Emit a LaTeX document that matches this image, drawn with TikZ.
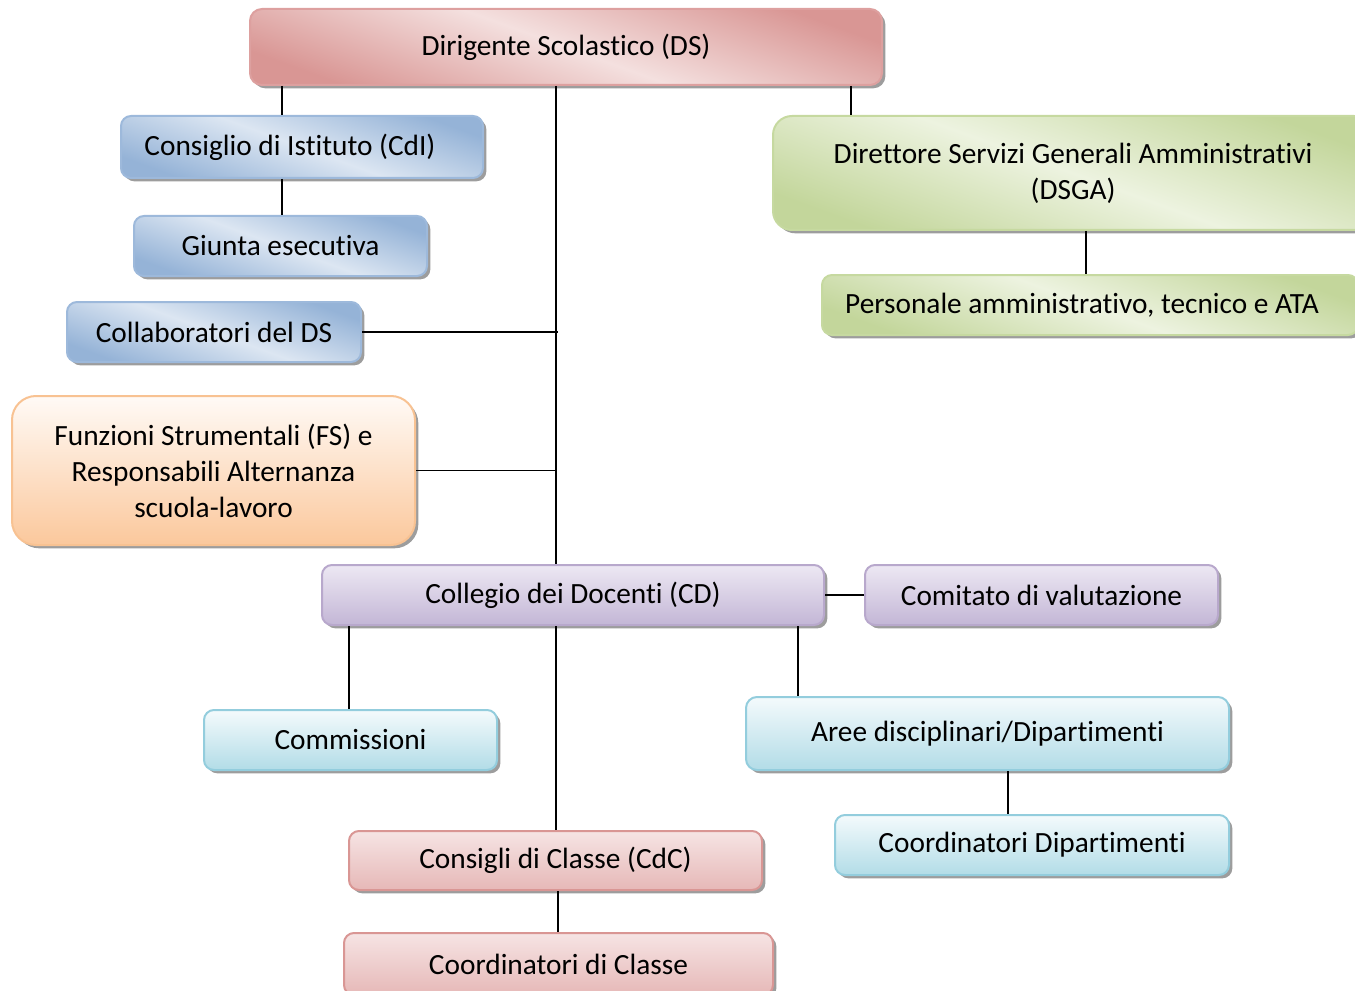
\documentclass[tikz,border=0pt]{standalone}
\usepackage{fontspec}
\setmainfont{Carlito}[Ligatures=NoCommon]
\usetikzlibrary{shadows}
\definecolor{redD}{HTML}{D99694}
\definecolor{redL}{HTML}{F4E0DF}
\definecolor{redB}{HTML}{DDA09F}
\definecolor{blueD}{HTML}{95B3D7}
\definecolor{blueL}{HTML}{DCE6F2}
\definecolor{blueB}{HTML}{9DB9DB}
\definecolor{greenD}{HTML}{C3D69B}
\definecolor{greenL}{HTML}{EDF3E0}
\definecolor{greenB}{HTML}{C6D9A0}
\definecolor{orangeD}{HTML}{FBC89C}
\definecolor{orangeL}{HTML}{FFFAF6}
\definecolor{orangeB}{HTML}{F8C292}
\definecolor{purpleD}{HTML}{C3B6D6}
\definecolor{purpleL}{HTML}{EDE8F3}
\definecolor{purpleB}{HTML}{B8A8CC}
\definecolor{cyanD}{HTML}{B2DCE7}
\definecolor{cyanL}{HTML}{F4FAFC}
\definecolor{cyanB}{HTML}{93CDDD}
\definecolor{pinkD}{HTML}{E6B8B7}
\definecolor{pinkL}{HTML}{F6E4E4}
\definecolor{pinkB}{HTML}{D99694}
\tikzset{
  orgbox/.style={rectangle, inner sep=0pt, align=center, line width=1.5pt,
    font=\fontsize{22}{27}\selectfont, text=black,
    drop shadow={shadow xshift=2.5pt, shadow yshift=-2.5pt, fill=black!55, opacity=.7}},
  sz/.style 2 args={minimum width=#1*0.75pt, minimum height=#2*0.75pt},
  rc/.style={rounded corners=#1*0.75pt},
  redbox/.style={orgbox, draw=redB, top color=redD, bottom color=redD, middle color=redL, shading angle=-20},
  bluebox/.style={orgbox, draw=blueB, top color=blueD, bottom color=blueD, middle color=blueL, shading angle=-20},
  greenbox/.style={orgbox, draw=greenB, top color=greenD, bottom color=greenD, middle color=greenL, shading angle=-20},
  orangebox/.style={orgbox, draw=orangeB, top color=orangeL, bottom color=orangeD},
  purplebox/.style={orgbox, draw=purpleB, top color=purpleL, bottom color=purpleD},
  cyanbox/.style={orgbox, draw=cyanB, top color=cyanL, bottom color=cyanD},
  pinkbox/.style={orgbox, draw=pinkB, top color=pinkL, bottom color=pinkD},
  link/.style={draw=black, line width=1.3pt}
}
\begin{document}
\begin{tikzpicture}[x=0.75pt,y=-0.75pt]
\useasboundingbox (0,0) rectangle (1355,991);
\clip (0,0) rectangle (1355,991);

\node[redbox, sz={632}{76}, rc=12] (ds) at (566,47) {\raisebox{3pt}{Dirigente Scolastico (DS)}};
\node[bluebox, sz={362}{62}, rc=10] (cdi) at (302,147) {Consiglio di Istituto (CdI)\hspace*{18pt}};
\node[bluebox, sz={293}{60}, rc=10] (giunta) at (280.5,246) {Giunta esecutiva};
\node[bluebox, sz={294}{60}, rc=10] (collab) at (214,332) {Collaboratori del DS};
\node[orangebox, sz={403}{149}, rc=24] (fs) at (213.5,470.5) {Funzioni Strumentali (FS) e\\Responsabili Alternanza\\scuola-lavoro};
\node[greenbox, sz={600}{114}, rc=19] (dsga) at (1073,173) {Direttore Servizi Generali Amministrativi\\(DSGA)};
\node[greenbox, sz={536}{60}, rc=10] (pers) at (1090,305) {Personale amministrativo, tecnico e ATA\hspace*{12pt}};
\node[purplebox, sz={502}{60}, rc=10] (cd) at (573,595) {Collegio dei Docenti (CD)};
\node[purplebox, sz={353}{60}, rc=10] (com) at (1041.5,595) {Comitato di valutazione};
\node[cyanbox, sz={293}{60}, rc=10] (comm) at (350.5,740) {Commissioni};
\node[cyanbox, sz={483}{73}, rc=11] (aree) at (987.5,733.5) {\raisebox{2pt}{Aree disciplinari/Dipartimenti}};
\node[cyanbox, sz={394}{60}, rc=10] (cdip) at (1032,845) {Coordinatori Dipartimenti};
\node[pinkbox, sz={413}{59}, rc=10] (cdc) at (555.5,860.5) {Consigli di Classe (CdC)};
\node[pinkbox, sz={429}{62}, rc=10] (ccl) at (558.5,964) {Coordinatori di Classe};

\coordinate (spine) at (556,0);

\draw[link] (ds.south -| 282,0) -- (cdi.north -| 282,0);
\draw[link] (cdi.south -| 282,0) -- (giunta.north -| 282,0);
\draw[link] (ds.south -| 851,0) -- (dsga.north -| 851,0);
\draw[link] (dsga.south -| 1086,0) -- (pers.north -| 1086,0);
\draw[link] (ds.south -| spine) -- (cd.north -| spine);
\draw[link] (collab.east) -- (collab.east -| 558,0);
\draw[link] (fs.east) -- (fs.east -| spine);
\draw[link] (cd.east) -- (com.west);
\draw[link] (cd.south -| 349,0) -- (comm.north -| 349,0);
\draw[link] (cd.south -| spine) -- (cdc.north -| spine);
\draw[link] (cd.south -| 798,0) -- (aree.north -| 798,0);
\draw[link] (aree.south -| 1008,0) -- (cdip.north -| 1008,0);
\draw[link] (cdc.south -| 558,0) -- (ccl.north -| 558,0);
\end{tikzpicture}
\end{document}
